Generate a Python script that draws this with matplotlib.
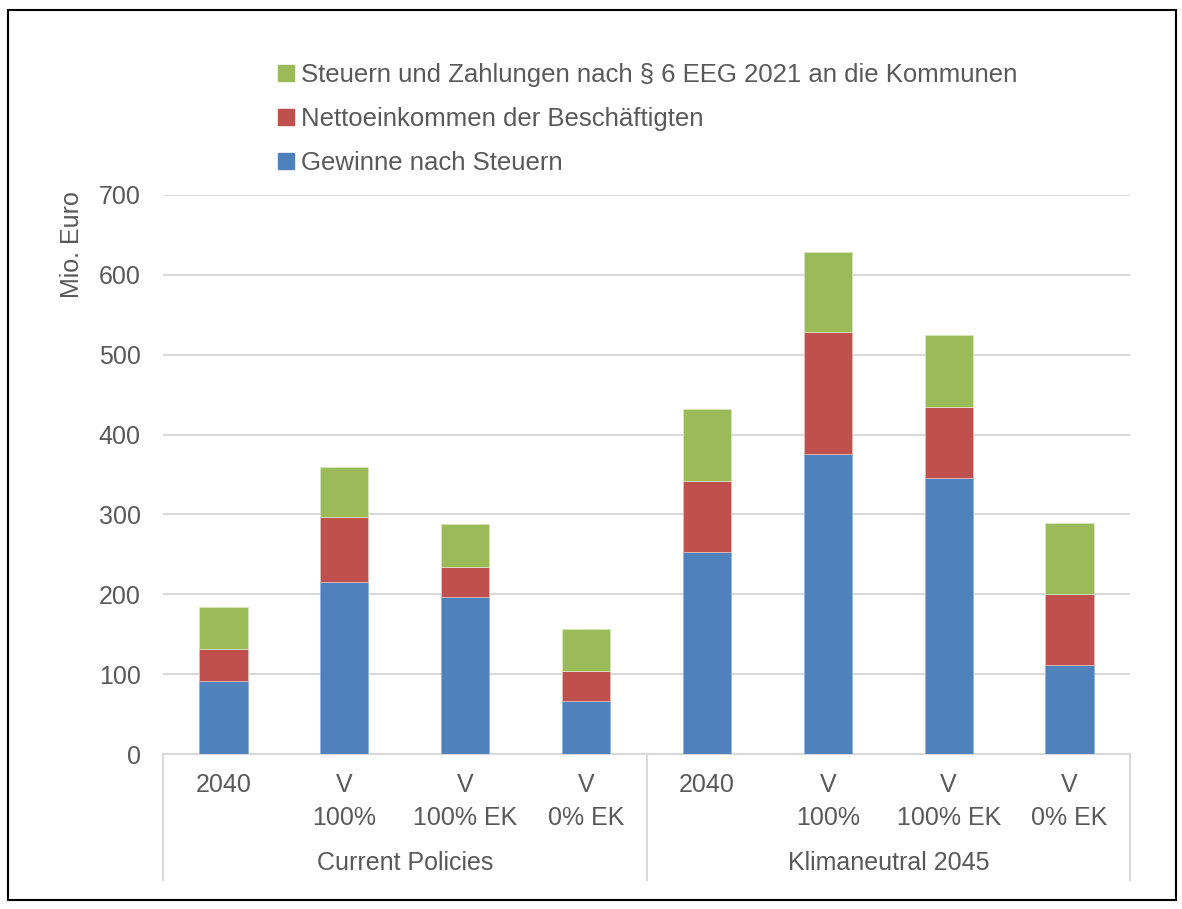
import matplotlib.pyplot as plt
import matplotlib.patches as mpatches
from matplotlib.transforms import blended_transform_factory
import numpy as np

plt.rcParams['font.family'] = ['Liberation Sans', 'DejaVu Sans']

# data
groups = ['Current Policies', 'Klimaneutral 2045']
cats = ['2040', 'V\n100%', 'V\n100% EK', 'V\n0% EK'] * 2
gewinne = [92, 216, 196, 66, 253, 376, 346, 111]
netto = [39, 81, 38, 38, 89, 152, 89, 89]
steuern = [53, 62, 54, 53, 90, 100, 90, 89]
series_names = ['Gewinne nach Steuern', 'Nettoeinkommen der Beschäftigten',
                'Steuern und Zahlungen nach § 6 EEG 2021 an die Kommunen']
colors = ['#4f81bd', '#c0504d', '#9bbb59']
txt = '#595959'

W, H = 1182, 909
fig = plt.figure(figsize=(W / 100, H / 100), dpi=100)
ax = fig.add_axes([163 / W, (H - 754) / H, (1130 - 163) / W, (754 - 195) / H])

x = np.arange(len(cats))
g = np.array(gewinne)
n = np.array(netto)
s = np.array(steuern)
ax.bar(x, g, width=0.4, color=colors[0], edgecolor='#8eb4e3', linewidth=0.6, zorder=3)
ax.bar(x, n, bottom=g, width=0.4, color=colors[1], edgecolor='#e6b9b8', linewidth=0.6, zorder=3)
ax.bar(x, s, bottom=g + n, width=0.4, color=colors[2], edgecolor='#d7e4bd', linewidth=0.6, zorder=3)

ax.set_xlim(-0.5, len(cats) - 0.5)
ax.set_ylim(0, 700)
ax.set_yticks(range(0, 701, 100))
ax.grid(axis='y', color='#d9d9d9', linewidth=1.5, zorder=0)
for sp in ['top', 'right', 'left']:
    ax.spines[sp].set_visible(False)
ax.spines['bottom'].set_color('#d9d9d9')
ax.spines['bottom'].set_linewidth(1.5)
ax.tick_params(axis='y', length=0, pad=16, labelsize=18, labelcolor=txt)
ax.tick_params(axis='x', length=0, labelbottom=False)

# category labels (two levels)
ah = 754 - 195
tr = blended_transform_factory(ax.transData, ax.transAxes)
for i, c in enumerate(cats):
    ax.text(i, -(773 - 754) / ah, c, transform=tr, ha='center', va='top',
            fontsize=18, color=txt, linespacing=1.45)
for k, grp in enumerate(groups):
    ax.text(k * 4 + 1.5, -(863 - 754) / ah, grp, transform=tr, ha='center', va='center',
            fontsize=18, color=txt)
for xv in [-0.5, 3.5, 7.5]:
    ax.plot([xv, xv], [0, -(880 - 754) / ah], transform=tr, color='#d9d9d9',
            linewidth=1.5, clip_on=False)

fig.text(72 / W, 1 - 245 / H, 'Mio. Euro', rotation=90, ha='center', va='center',
         fontsize=18, color=txt)

handles = [mpatches.Patch(color=colors[i]) for i in [2, 1, 0]]
labels = [series_names[i] for i in [2, 1, 0]]
fig.legend(handles, labels, loc='upper left', bbox_to_anchor=(268 / W, 1 - 53 / H),
           frameon=False, fontsize=18.5, labelcolor=txt, handlelength=0.6,
           handleheight=0.6, handletextpad=0.3, labelspacing=0.78, borderaxespad=0)

fig.patches.append(mpatches.Rectangle((8 / W, 1 - 900 / H), 1168 / W, 890 / H,
                                      transform=fig.transFigure, fill=False,
                                      edgecolor='black', linewidth=1.5))

fig.savefig('out.png', dpi=100)
